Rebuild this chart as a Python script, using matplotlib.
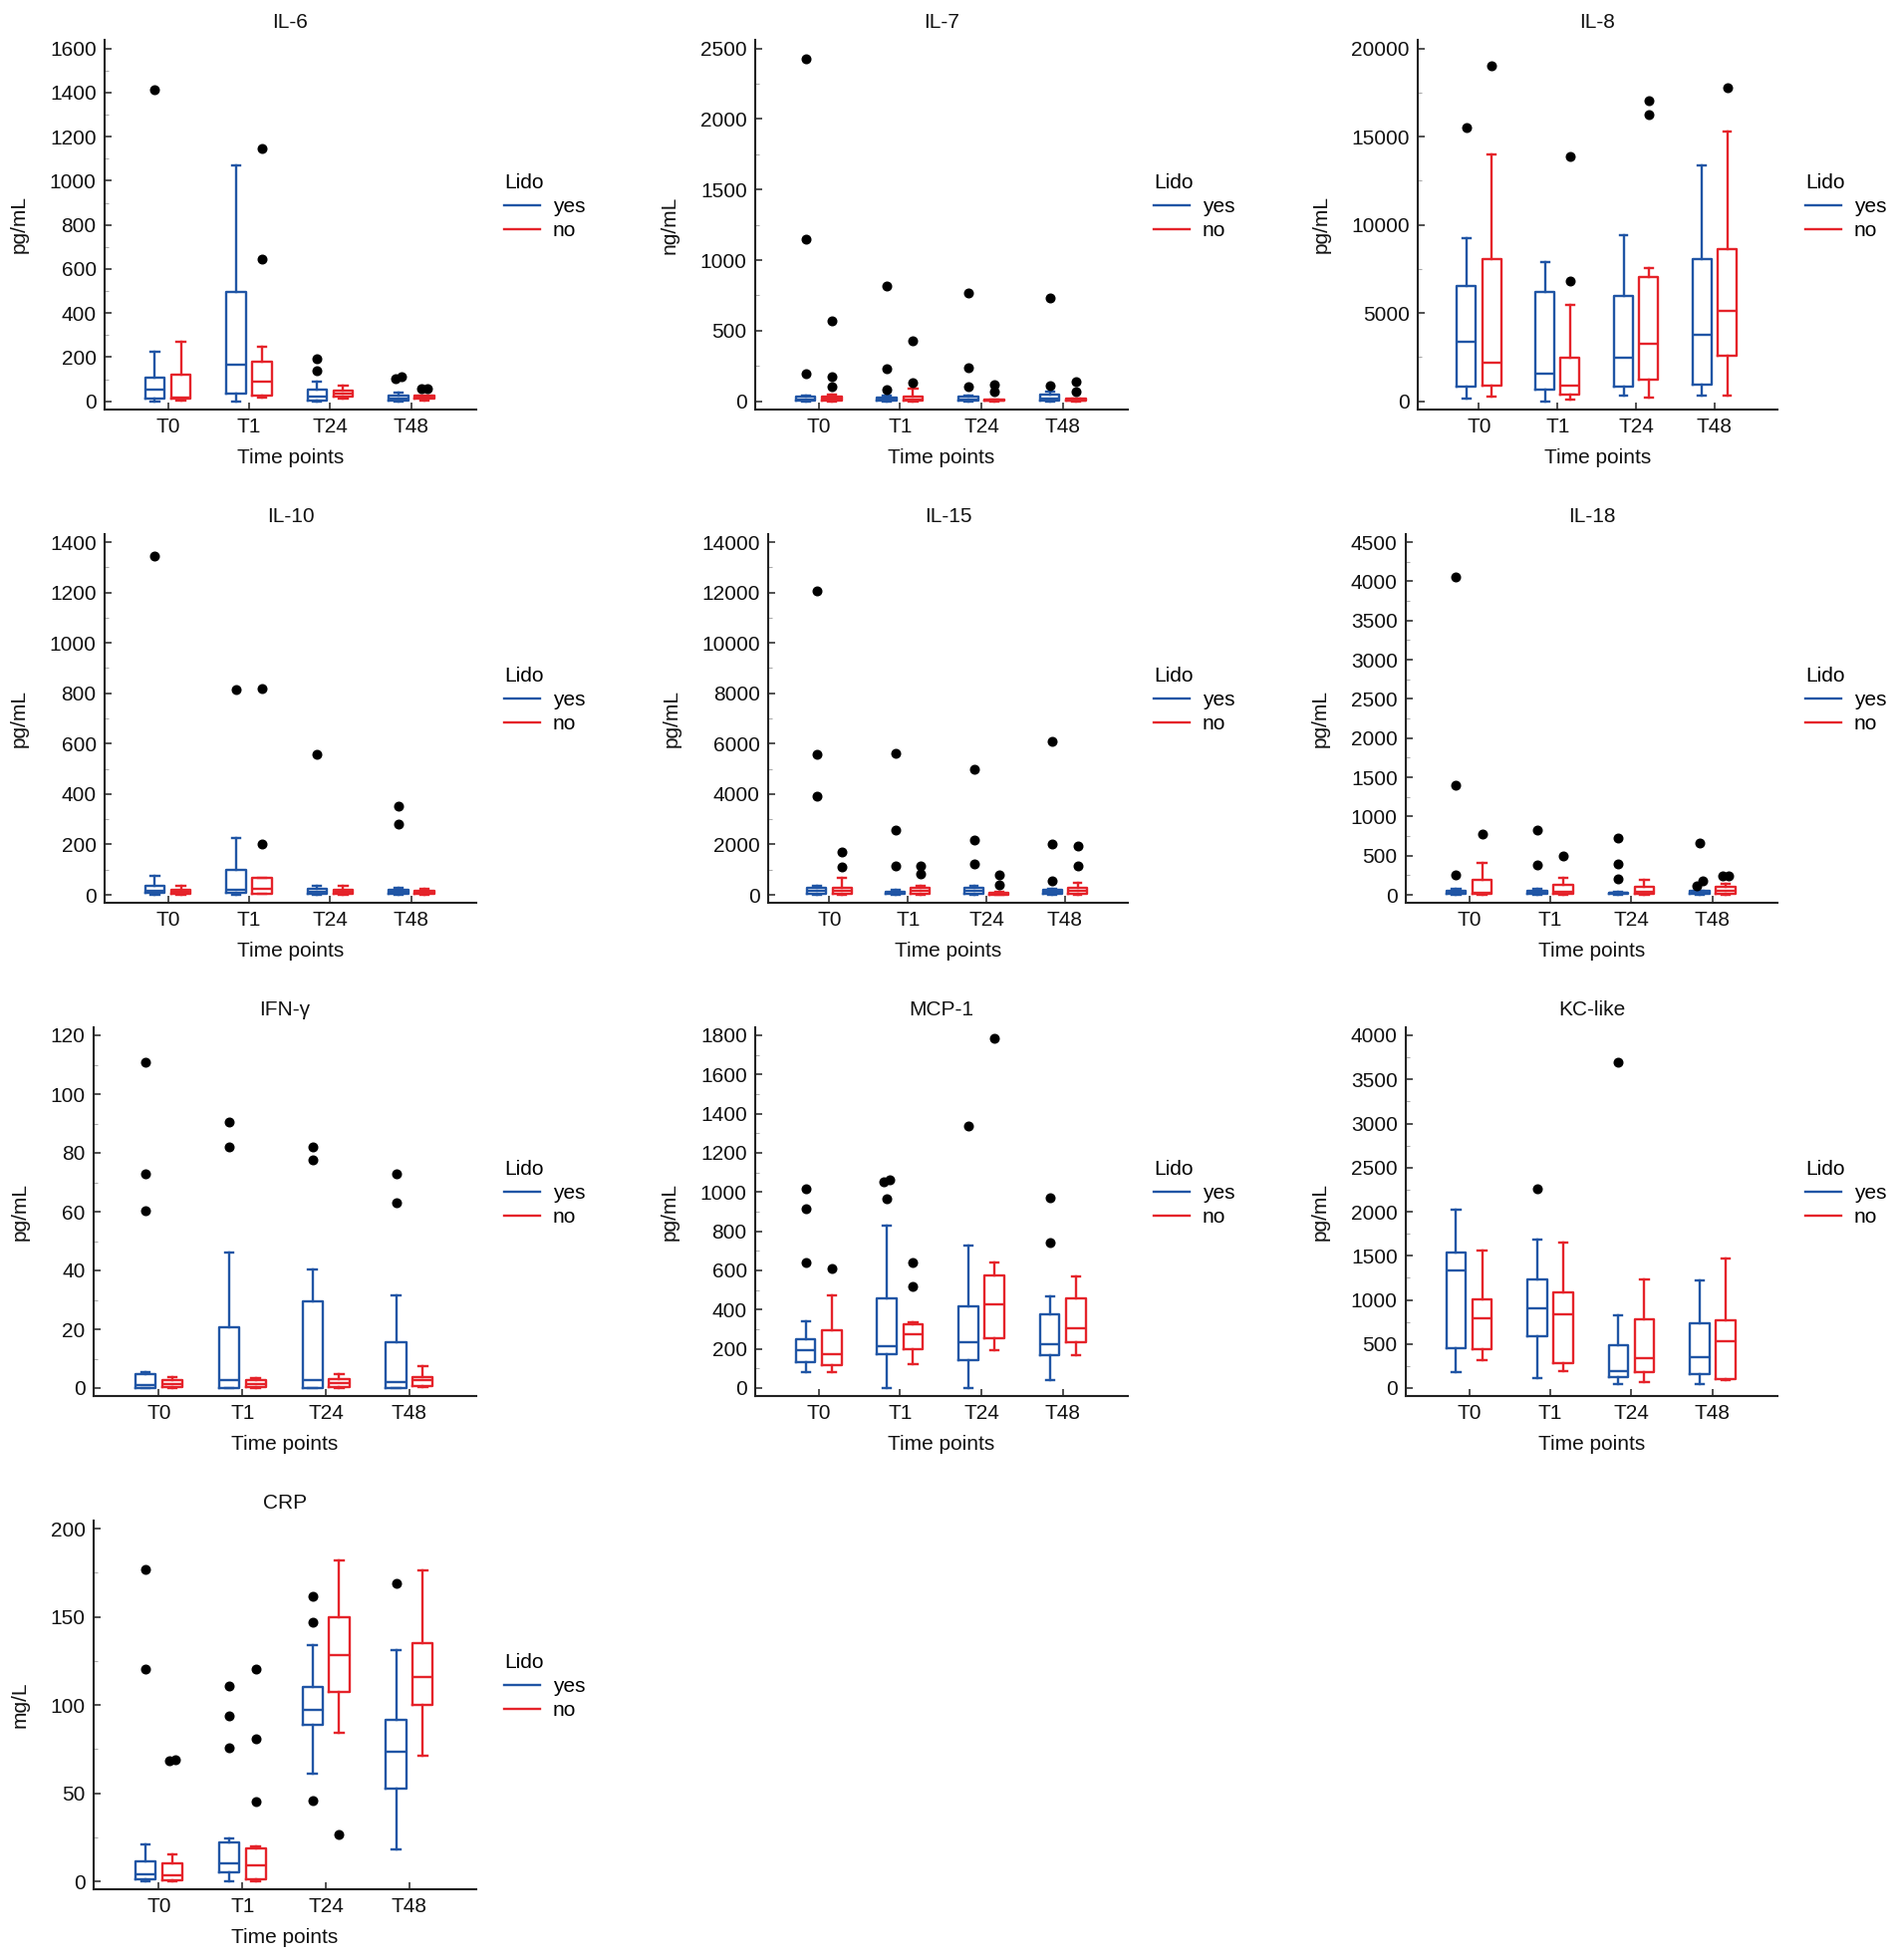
"""
Cytokine box plots by time point, Lido yes / no (3x4 grid, 10 panels).
"""

import matplotlib
matplotlib.use("Agg")

import matplotlib.pyplot as plt
from matplotlib.lines import Line2D
from matplotlib.ticker import MultipleLocator
import numpy as np

plt.rcParams["font.family"] = ["Liberation Sans", "DejaVu Sans"]

# -- Data ---------------------------------------------------------------------
# box stats per time point: (whislo, q1, median, q3, whishi); outliers listed apart
time_points = ["T0", "T1", "T24", "T48"]

il6_yes = [(0, 12, 54, 105, 226), (0, 33, 167, 494, 1070), (0, 3, 23, 54, 90), (0, 3, 12, 24, 38)]
il6_yes_out = [[1412], [], [193, 139], [102, 110]]
il6_no = [(5, 12, 18, 120, 271), (15, 27, 87, 178, 249), (12, 23, 35, 47, 69), (5, 12, 17, 27, 27)]
il6_no_out = [[], [1147, 646], [], [57, 58]]

il7_yes = [(0, 2, 15, 30, 38), (0, 3, 12, 25, 42), (0, 3, 15, 35, 42), (0, 3, 18, 45, 71)]
il7_yes_out = [[2425, 1151, 195], [815, 231, 82], [767, 240, 101], [730, 113]]
il7_no = [(0, 5, 18, 33, 45), (0, 2, 12, 30, 89), (0, 2, 5, 12, 15), (0, 3, 8, 18, 22)]
il7_no_out = [[570, 172, 106], [426, 132], [120, 71], [141, 71]]

il8_yes = [(150, 810, 3390, 6515, 9227), (0, 678, 1544, 6176, 7871),
           (339, 810, 2448, 5988, 9415), (339, 960, 3766, 8060, 13388)]
il8_yes_out = [[15497], [], [], []]
il8_no = [(282, 904, 2166, 8060, 14010), (75, 377, 904, 2448, 5461),
          (188, 1224, 3239, 7061, 7570), (339, 2561, 5141, 8624, 15271)]
il8_no_out = [[19019], [13859, 6835], [17041, 16250], [17794]]

il10_yes = [(0, 8, 17, 34, 76), (0, 8, 21, 100, 227), (0, 5, 13, 24, 34), (0, 4, 10, 20, 29)]
il10_yes_out = [[1344], [813], [557], [353, 279]]
il10_no = [(0, 3, 10, 18, 34), (2, 3, 22, 67, 67), (0, 4, 10, 18, 34), (0, 3, 8, 16, 24)]
il10_no_out = [[], [817, 203], [], []]

il15_yes = [(0, 53, 145, 264, 343), (0, 26, 79, 132, 185), (0, 53, 145, 290, 369), (0, 53, 132, 211, 237)]
il15_yes_out = [[12073, 5575, 3928], [5615, 2570, 1133], [4982, 2162, 1239], [6076, 2017, 554]]
il15_no = [(0, 53, 171, 290, 672), (0, 53, 145, 264, 343), (0, 10, 40, 80, 132), (0, 53, 145, 290, 461)]
il15_no_out = [[1713, 1094], [1133, 830], [791, 395], [1924, 1133]]

il18_yes = [(0, 17, 42, 55, 80), (0, 13, 30, 47, 76), (0, 10, 20, 30, 42), (0, 13, 34, 55, 55)]
il18_yes_out = [[4050, 1393, 254], [830, 381], [725, 390, 203], [657, 182, 119]]
il18_no = [(0, 8, 25, 195, 403), (0, 17, 34, 127, 220), (0, 13, 34, 97, 195), (0, 17, 47, 97, 140)]
il18_no_out = [[771], [496], [], [237, 246]]

ifn_yes = [(0, 0, 0.9, 4.7, 5.4), (0, 0, 2.8, 20.6, 46.0), (0, 0, 2.8, 29.4, 40.5), (0, 0, 1.9, 15.5, 31.6)]
ifn_yes_out = [[111, 73, 60.3], [90.6, 81.9], [81.9, 77.5], [73, 62.9]]
ifn_no = [(0, 0.2, 1.4, 2.8, 3.6), (0, 0.2, 1.4, 2.8, 3.4), (0, 0.5, 1.7, 3.1, 4.7), (0.2, 0.8, 2.7, 3.6, 7.6)]
ifn_no_out = [[], [], [], []]

mcp_yes = [(80, 134, 192, 249, 342), (0, 173, 212, 458, 831), (0, 144, 234, 419, 725), (42, 170, 225, 378, 466)]
mcp_yes_out = [[1015, 917, 639], [1054, 1064, 964], [1336], [973, 742]]
mcp_no = [(80, 117, 173, 297, 471), (122, 198, 275, 327, 334), (195, 256, 427, 576, 641), (166, 232, 303, 458, 568)]
mcp_no_out = [[610], [642, 520], [1785], []]

kc_yes = [(181, 452, 1337, 1533, 2019), (113, 584, 904, 1235, 1687),
          (49, 124, 188, 482, 825), (49, 162, 346, 738, 1224)]
kc_yes_out = [[], [2260], [3698], []]
kc_no = [(313, 444, 795, 1006, 1563), (196, 279, 832, 1085, 1650),
         (72, 181, 339, 783, 1232), (87, 98, 527, 772, 1469)]
kc_no_out = [[], [], [], []]

crp_yes = [(0, 1.3, 3.8, 11.3, 21.1), (0, 5.3, 10.4, 22.0, 24.3),
           (61.0, 88.9, 97.4, 110.4, 133.7), (18.1, 52.7, 73.6, 91.7, 130.9)]
crp_yes_out = [[176.6, 120.1], [110.7, 93.8, 75.5], [161.4, 147.1, 45.9], [169.1]]
crp_no = [(0, 0.4, 3.2, 10.2, 15.1), (0, 0.9, 9.2, 18.6, 19.8),
          (84.0, 107.5, 128.0, 149.7, 181.7), (71.0, 99.8, 116.0, 135.0, 176.5)]
crp_no_out = [[68.5, 68.9], [120.1, 81.0, 45.4], [26.7], []]

# name, unit, tick step, axis max, yes stats, yes outliers, no stats, no outliers
panels = [
    ("IL-6", "pg/mL", 200, 1600, il6_yes, il6_yes_out, il6_no, il6_no_out),
    ("IL-7", "ng/mL", 500, 2500, il7_yes, il7_yes_out, il7_no, il7_no_out),
    ("IL-8", "pg/mL", 5000, 20000, il8_yes, il8_yes_out, il8_no, il8_no_out),
    ("IL-10", "pg/mL", 200, 1400, il10_yes, il10_yes_out, il10_no, il10_no_out),
    ("IL-15", "pg/mL", 2000, 14000, il15_yes, il15_yes_out, il15_no, il15_no_out),
    ("IL-18", "pg/mL", 500, 4500, il18_yes, il18_yes_out, il18_no, il18_no_out),
    ("IFN-\u03b3", "pg/mL", 20, 120, ifn_yes, ifn_yes_out, ifn_no, ifn_no_out),
    ("MCP-1", "pg/mL", 200, 1800, mcp_yes, mcp_yes_out, mcp_no, mcp_no_out),
    ("KC-like", "pg/mL", 500, 4000, kc_yes, kc_yes_out, kc_no, kc_no_out),
    ("CRP", "mg/L", 50, 200, crp_yes, crp_yes_out, crp_no, crp_no_out),
]

# -- Layout (pixels of the 1902x1967 canvas) ---------------------------------
W, H = 1902, 1967
row_top_tick = [48.7, 544, 1039, 1534]     # y of the highest y tick per row
tick_span = 354                            # px from 0 tick to highest tick
axis_left = [105, 758, 1423, 105, 771, 1411, 94, 758, 1411, 94]
col_right = [478, 1132, 1784]
legend_x = [506, 1158, 1812]

BLUE = "#2055a5"
RED = "#e5232a"
AXIS = "#222222"
FS = 15
LW = 1.7


def make_stats(rows):
    return [dict(whislo=r[0], q1=r[1], med=r[2], q3=r[3], whishi=r[4], fliers=[])
            for r in rows]


def draw_outliers(ax, pos, values, ymax):
    # nearly coincident points sit side by side, as in the original
    vals = sorted(values)
    groups, cur = [], []
    for v in vals:
        if cur and v - cur[-1] > 0.016 * ymax:
            groups.append(cur)
            cur = []
        cur.append(v)
    if cur:
        groups.append(cur)
    for g in groups:
        offs = (np.arange(len(g)) - (len(g) - 1) / 2) * 0.07
        ax.plot(pos + offs, g, "o", color="black", ms=6.2, mec="black", zorder=4, clip_on=False)


fig = plt.figure(figsize=(W / 100, H / 100), dpi=100)

for i, (name, unit, step, ymax, y_st, y_out, n_st, n_out) in enumerate(panels):
    row, col = divmod(i, 3)
    top = row_top_tick[row] - 8.5
    bottom = row_top_tick[row] + tick_span + 8
    left = axis_left[i]
    right = col_right[col]
    ax = fig.add_axes([left / W, 1 - bottom / H, (right - left) / W, (bottom - top) / H])

    x = np.arange(len(time_points))
    for stats, color, shift, outs in ((y_st, BLUE, -0.16, y_out), (n_st, RED, 0.16, n_out)):
        lp = dict(color=color, linewidth=LW)
        ax.bxp(make_stats(stats), positions=x + shift, widths=0.24, capwidths=0.1,
               showfliers=False, boxprops=lp, whiskerprops=lp, capprops=lp,
               medianprops=lp, manage_ticks=False)
        for k, vals in enumerate(outs):
            if vals:
                draw_outliers(ax, x[k] + shift, vals, ymax)

    ax.set_xlim(-0.78, 3.80)
    ax.set_ylim(-8 / tick_span * ymax, ymax + 8.5 / tick_span * ymax)
    ax.set_xticks(x)
    ax.set_xticklabels(time_points)
    ax.yaxis.set_major_locator(MultipleLocator(step))
    ax.yaxis.set_minor_locator(MultipleLocator(step / 2))

    for side in ("top", "right"):
        ax.spines[side].set_visible(False)
    for side in ("left", "bottom"):
        ax.spines[side].set_color(AXIS)
        ax.spines[side].set_linewidth(1.5)

    ax.tick_params(axis="both", which="major", direction="in", length=5, width=1.1,
                   color=AXIS, labelsize=FS, pad=6, labelcolor="#111111")
    ax.tick_params(axis="y", which="minor", direction="in", length=3, width=0.8,
                   color="#aaaaaa")

    ax.set_title(name, fontsize=FS, pad=8.5, color="#111111")
    ax.set_xlabel("Time points", fontsize=FS, labelpad=8.5, color="#111111")
    ax.set_ylabel(unit, fontsize=FS, labelpad=15, color="#111111")

    handles = [Line2D([], [], color=BLUE, lw=LW), Line2D([], [], color=RED, lw=LW)]
    lx = (legend_x[col] - left) / (right - left)
    ax.legend(handles, ["yes", "no"], title="Lido", loc="center left",
              bbox_to_anchor=(lx, 0.549), frameon=False, fontsize=FS,
              title_fontsize=FS, handlelength=1.73, handletextpad=0.62,
              labelspacing=0.25, borderpad=0, borderaxespad=0, alignment="left")

fig.savefig("out.png", dpi=100, facecolor="white")
plt.close(fig)
